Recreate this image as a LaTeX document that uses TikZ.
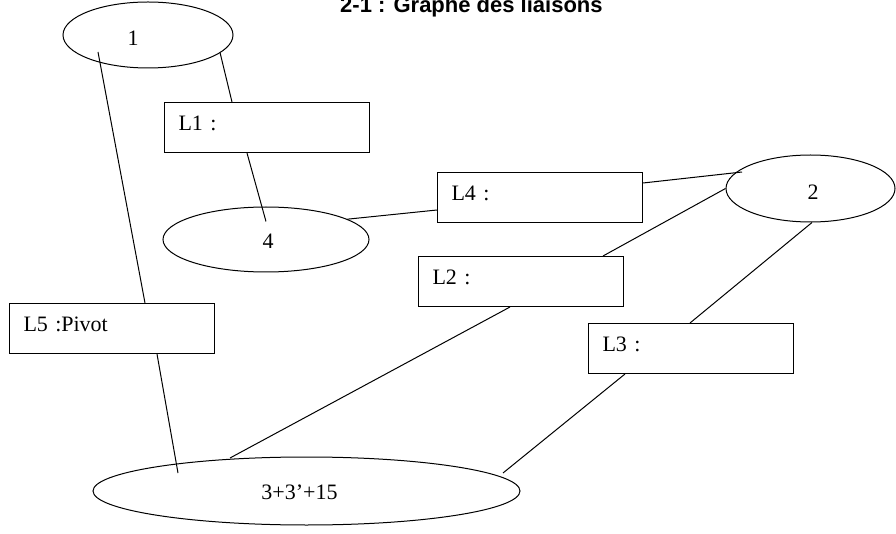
\documentclass[tikz,border=0pt]{standalone}
\usepackage{fontspec}
\setmainfont{Liberation Serif}
\newfontfamily\titlefont{Liberation Sans}
\usetikzlibrary{shapes.geometric}
\tikzset{
  ell/.style={draw, ellipse, line width=1pt, inner sep=0pt},
  lbox/.style={draw, rectangle, line width=1pt, anchor=north west,
    inner xsep=14pt, inner ysep=0pt, text width=177pt, align=left,
    text height=28pt, text depth=22pt, font=\fontsize{22}{26}\selectfont},
  lbl/.style={font=\fontsize{22}{26}\selectfont, inner sep=0pt},
  link/.style={line width=1pt},
}
\begin{document}
\begin{tikzpicture}[x=1pt, y=-1pt]
\useasboundingbox (0,0) rectangle (896,534);
% title
\node[anchor=base west, inner sep=0pt, font=\titlefont\bfseries\fontsize{22}{26}\selectfont] (title) at (340,13) {2-1 : Graphe des liaisons};
% ellipses
\node[ell, minimum width=170pt, minimum height=66pt] (e1) at (148,35) {};
\node[lbl] (t1) at ([xshift=-15pt, yshift=-3.5pt]e1.center) {1};
\node[ell, minimum width=206pt, minimum height=65pt] (e4) at (266,239.5) {};
\node[lbl] (t4) at ([xshift=2pt, yshift=-2pt]e4.center) {4};
\node[ell, minimum width=169pt, minimum height=67pt] (e2) at (810.5,188.5) {};
\node[lbl] (t2) at ([xshift=2.5pt, yshift=-4pt]e2.center) {2};
\node[ell, minimum width=427pt, minimum height=68pt] (e3) at (306.5,491) {};
\node[lbl] (t3) at ([xshift=-7pt, yshift=-1pt]e3.center) {3+3’+15};
% boxes
\node[lbox, minimum width=204pt] (L1) at (164,102) {L1 :};
\node[lbox, minimum width=205pt] (L4) at (437,172) {L4 :};
\node[lbox, minimum width=205pt] (L2) at (418,256) {L2 :};
\node[lbox, minimum width=205pt] (L3) at (588,323) {L3 :};
\node[lbox, minimum width=204pt] (L5) at (9,303) {L5 :Pivot};
% connectors
\draw[link] (e1.-14) -- ([xshift=68pt]L1.north west);
\draw[link] ([xshift=83pt]L1.south west) -- ([yshift=18pt]e4.center);
\draw[link] (e4.14) -- ([yshift=-38pt]L4.north west);
\draw[link] ([yshift=-11pt]L4.north east) -- ([xshift=-68.5pt, yshift=16.5pt]e2.center);
\draw[link] ([xshift=185pt]L2.north west) -- (e2.west);
\draw[link] ([xshift=1.5pt]e2.south) -- ([xshift=102pt]L3.north west);
\draw[link] ([xshift=37pt]L3.south west) -- ([xshift=196.5pt, yshift=18pt]e3.center);
\draw[link] ([xshift=92pt]L2.south west) -- ([xshift=-76.5pt, yshift=33pt]e3.center);
\draw[link] ([xshift=-50pt, yshift=-17pt]e1.center) -- ([xshift=136pt]L5.north west);
\draw[link] ([xshift=148pt]L5.south west) -- ([xshift=-128.5pt, yshift=18pt]e3.center);
\end{tikzpicture}
\end{document}
